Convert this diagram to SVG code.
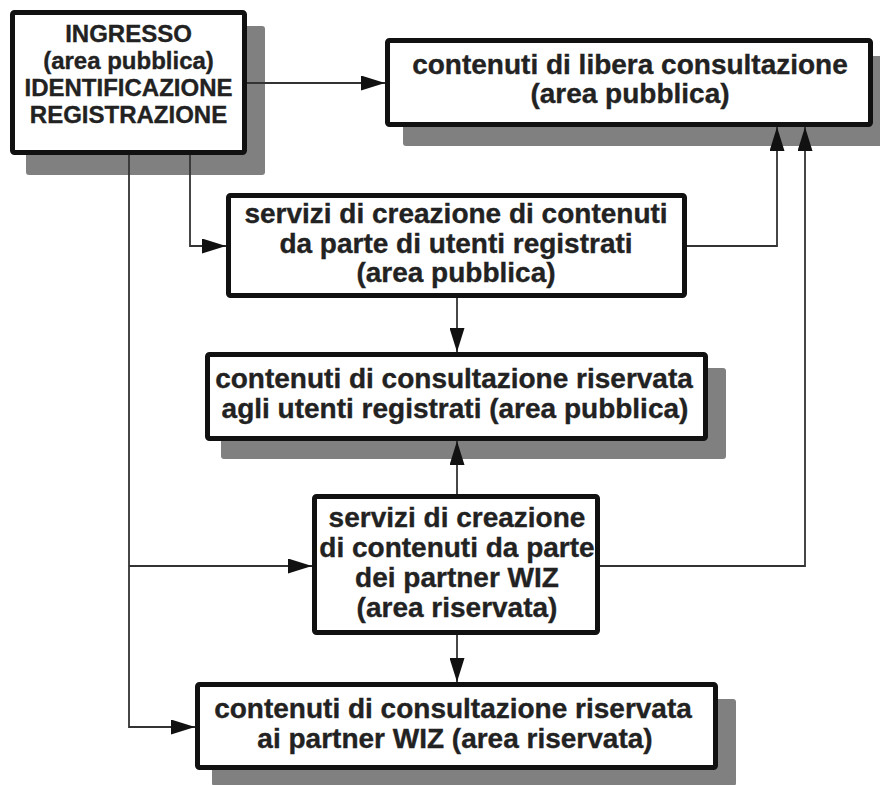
<svg xmlns="http://www.w3.org/2000/svg" width="880" height="785" viewBox="0 0 880 785">
<style>
.shadow{fill:#808080}
.box{fill:#ffffff;stroke:#111111;stroke-width:5}
.t{font-family:"Liberation Sans",Arial,sans-serif;font-weight:bold;fill:#222222;text-anchor:middle;stroke:#222222;stroke-width:0.35}
.t28{font-size:28px}
.t24{font-size:24px}
.conn{fill:none;stroke:#333333;stroke-width:1.8}
</style>
<defs>
<marker id="arr" markerUnits="userSpaceOnUse" markerWidth="24" markerHeight="15" refX="24" refY="7.5" orient="auto">
<path d="M0,0 L24,7.5 L0,15 z" fill="#111111"/>
</marker>
</defs>
<rect width="880" height="785" fill="#ffffff"/>
<g id="node-ingresso">
<rect class="shadow" x="26" y="26" width="239" height="149" rx="3"/>
<rect class="box" x="12.5" y="12.5" width="232" height="140" rx="2"/>
<text class="t t24" x="128.5" y="42">INGRESSO</text>
<text class="t t24" x="128.5" y="69">(area pubblica)</text>
<text class="t t24" x="128.5" y="96">IDENTIFICAZIONE</text>
<text class="t t24" x="128.5" y="123">REGISTRAZIONE</text>
</g>
<g id="node-libera">
<rect class="shadow" x="403" y="56" width="490" height="90" rx="3"/>
<rect class="box" x="387.5" y="40.5" width="483" height="84" rx="2"/>
<text class="t t28" x="630" y="74">contenuti di libera consultazione</text>
<text class="t t28" x="630" y="103">(area pubblica)</text>
</g>
<g id="node-servizi-utenti">
<rect class="box" x="228.5" y="195.5" width="456" height="100" rx="2"/>
<text class="t t28" x="456" y="223">servizi di creazione di contenuti</text>
<text class="t t28" x="456" y="253">da parte di utenti registrati</text>
<text class="t t28" x="456" y="282">(area pubblica)</text>
</g>
<g id="node-riservata-utenti">
<rect class="shadow" x="221" y="368" width="505" height="91" rx="3"/>
<rect class="box" x="207.5" y="354.5" width="498" height="84" rx="2"/>
<text class="t t28" x="454" y="388">contenuti di consultazione riservata</text>
<text class="t t28" x="455" y="418">agli utenti registrati (area pubblica)</text>
</g>
<g id="node-servizi-partner">
<rect class="box" x="314.5" y="496.5" width="283" height="136" rx="2"/>
<text class="t t28" x="457" y="527">servizi di creazione</text>
<text class="t t28" x="457" y="557">di contenuti da parte</text>
<text class="t t28" x="457" y="587">dei partner WIZ</text>
<text class="t t28" x="457" y="617">(area riservata)</text>
</g>
<g id="node-riservata-partner">
<rect class="shadow" x="212" y="699" width="524" height="87" rx="3"/>
<rect class="box" x="197.5" y="684.5" width="518" height="83" rx="2"/>
<text class="t t28" x="453" y="718">contenuti di consultazione riservata</text>
<text class="t t28" x="455" y="748">ai partner WIZ (area riservata)</text>
</g>
<g id="connectors">
<path class="conn" d="M247,83 H385" marker-end="url(#arr)"/>
<path class="conn" d="M190,155 V246 H226" marker-end="url(#arr)"/>
<path class="conn" d="M129,155 V727 H195" marker-end="url(#arr)"/>
<path class="conn" d="M129,566 H312" marker-end="url(#arr)"/>
<path class="conn" d="M687,246 H777 V127" marker-end="url(#arr)"/>
<path class="conn" d="M457,298 V352" marker-end="url(#arr)"/>
<path class="conn" d="M457,494 V441" marker-end="url(#arr)"/>
<path class="conn" d="M457,635 V682" marker-end="url(#arr)"/>
<path class="conn" d="M600,566 H805 V127" marker-end="url(#arr)"/>
</g>
</svg>
